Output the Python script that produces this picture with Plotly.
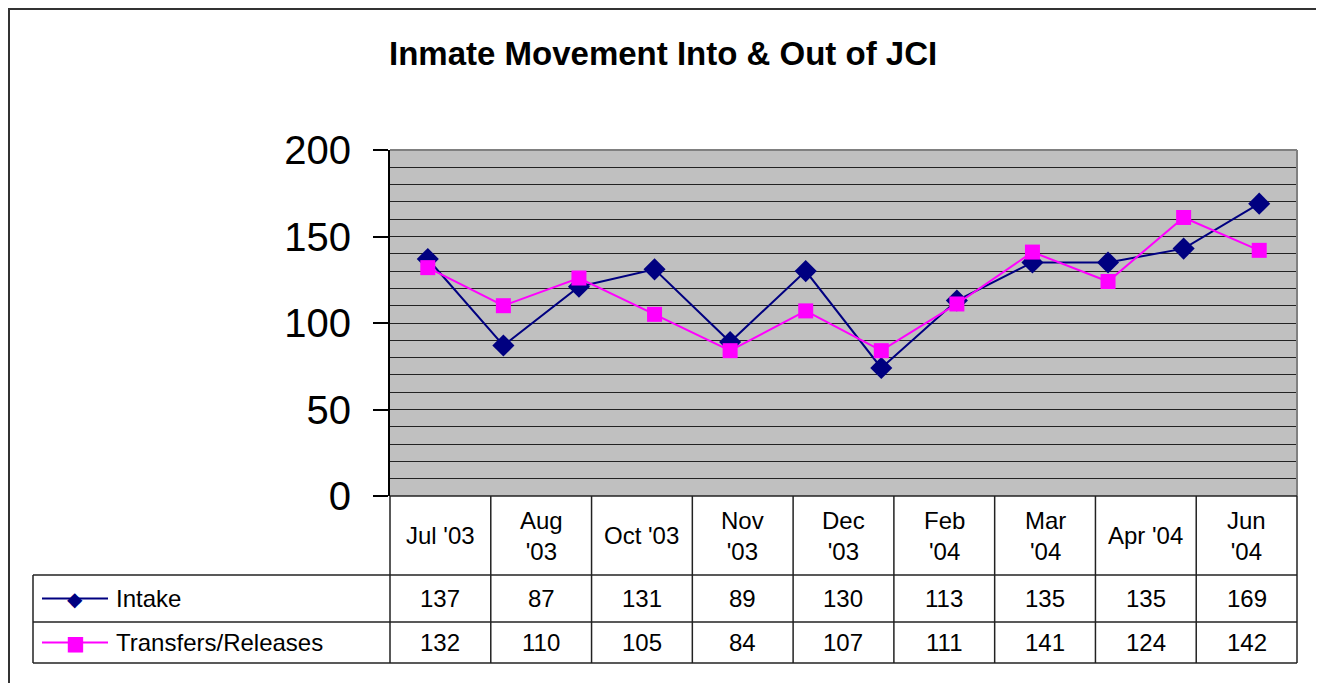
import plotly.graph_objects as go

# monthly series plotted on the chart
months = ["Jul '03", "Aug '03", "Sep '03", "Oct '03", "Nov '03", "Dec '03",
          "Jan '04", "Feb '04", "Mar '04", "Apr '04", "May '04", "Jun '04"]
intake = [137, 87, 121, 131, 89, 130, 74, 113, 135, 135, 143, 169]
transfers = [132, 110, 126, 105, 84, 107, 84, 111, 141, 124, 161, 142]

# data table shown under the chart
table_labels = ["Jul '03", "Aug<br>'03", "Oct '03", "Nov<br>'03", "Dec<br>'03",
                "Feb<br>'04", "Mar<br>'04", "Apr '04", "Jun<br>'04"]
table_intake = [137, 87, 131, 89, 130, 113, 135, 135, 169]
table_transfers = [132, 110, 105, 84, 107, 111, 141, 124, 142]

W, H = 1324, 683
OFF = 8  # page body margin pushes the figure 8px right and down
FONT = "Liberation Sans, Arial, sans-serif"
NAVY = "#000080"
MAGENTA = "#FF00FF"

# plot area in screen pixels
L, R, T, B = 390, 1297, 150, 496
# table rows in screen pixels
ROW1, ROW2, ROW3 = 575, 622, 663
TABLE_LEFT = 33


def px(x):
    return (x - OFF) / W


def py(y):
    return 1 - (y - OFF) / H


fig = go.Figure()

fig.add_trace(go.Scatter(
    x=list(range(len(months))), y=intake, name="Intake", mode="lines+markers",
    line=dict(color=NAVY, width=2),
    marker=dict(symbol="diamond", size=17, color=NAVY),
    hovertext=months,
))
fig.add_trace(go.Scatter(
    x=list(range(len(months))), y=transfers, name="Transfers/Releases", mode="lines+markers",
    line=dict(color=MAGENTA, width=2),
    marker=dict(symbol="square", size=15, color=MAGENTA),
    hovertext=months,
))

shapes = []
# gray plot area
shapes.append(dict(type="rect", xref="paper", yref="paper", x0=px(L), x1=px(R), y0=py(B), y1=py(T),
                   fillcolor="#C0C0C0", line=dict(width=0), layer="below"))
# top and right border of plot area
shapes.append(dict(type="line", xref="paper", yref="paper", x0=px(L), x1=px(R), y0=py(T), y1=py(T),
                   line=dict(color="#808080", width=2)))
shapes.append(dict(type="line", xref="paper", yref="paper", x0=px(R), x1=px(R), y0=py(T), y1=py(B),
                   line=dict(color="#808080", width=2)))
# outer chart border
shapes.append(dict(type="rect", xref="paper", yref="paper", x0=px(9), x1=px(1321), y0=py(700), y1=py(9),
                   line=dict(color="#333333", width=2)))

# table grid
ncol = len(table_labels)
colw = (R - L) / ncol
for y in [B, ROW1, ROW2, ROW3]:
    x0 = L if y == B else TABLE_LEFT
    shapes.append(dict(type="line", xref="paper", yref="paper", x0=px(x0), x1=px(R), y0=py(y), y1=py(y),
                       line=dict(color="#222222", width=1.5)))
for i in range(ncol + 1):
    x = L + i * colw
    shapes.append(dict(type="line", xref="paper", yref="paper", x0=px(x), x1=px(x), y0=py(B), y1=py(ROW3),
                       line=dict(color="#222222", width=1.5)))
shapes.append(dict(type="line", xref="paper", yref="paper", x0=px(TABLE_LEFT), x1=px(TABLE_LEFT),
                   y0=py(ROW1), y1=py(ROW3), line=dict(color="#222222", width=1.5)))

annotations = []
tfont = dict(family=FONT, size=24, color="black")
for i in range(ncol):
    cx = px(L + (i + 0.5) * colw)
    annotations.append(dict(x=cx, y=py((B + ROW1) / 2), xref="paper", yref="paper", text=table_labels[i],
                            showarrow=False, font=tfont, xanchor="center", yanchor="middle"))
    annotations.append(dict(x=cx, y=py((ROW1 + ROW2) / 2), xref="paper", yref="paper", text=str(table_intake[i]),
                            showarrow=False, font=tfont, xanchor="center", yanchor="middle"))
    annotations.append(dict(x=cx, y=py((ROW2 + ROW3) / 2), xref="paper", yref="paper", text=str(table_transfers[i]),
                            showarrow=False, font=tfont, xanchor="center", yanchor="middle"))

# legend keys inside the table
for (y0, y1), name, color, glyph in [((ROW1, ROW2), "Intake", NAVY, "◆"),
                                      ((ROW2, ROW3), "Transfers/Releases", MAGENTA, "■")]:
    cy = (y0 + y1) / 2
    shapes.append(dict(type="line", xref="paper", yref="paper", x0=px(42), x1=px(108), y0=py(cy), y1=py(cy),
                       line=dict(color=color, width=2)))
    annotations.append(dict(x=px(75), y=py(cy), xref="paper", yref="paper", text=glyph, showarrow=False,
                            font=dict(family="DejaVu Sans", size=20, color=color),
                            xanchor="center", yanchor="middle"))
    annotations.append(dict(x=px(114), y=py(cy), xref="paper", yref="paper", text=name, showarrow=False,
                            font=tfont, xanchor="left", yanchor="middle"))

# title
annotations.append(dict(x=px(663), y=py(53), xref="paper", yref="paper",
                        text="<b>Inmate Movement Into &amp; Out of JCI</b>", showarrow=False,
                        font=dict(family=FONT, size=33, color="black"), xanchor="center", yanchor="middle"))

fig.update_layout(
    width=W, height=H,
    margin=dict(l=0, r=0, t=0, b=0, pad=0, autoexpand=False),
    paper_bgcolor="white",
    plot_bgcolor="rgba(0,0,0,0)",
    showlegend=False,
    shapes=shapes,
    annotations=annotations,
    xaxis=dict(domain=[px(L), px(R)], range=[-0.5, len(months) - 0.5],
               showticklabels=False, showgrid=False, zeroline=False, showline=False, ticks=""),
    yaxis=dict(domain=[py(B), py(T)], range=[0, 200], dtick=50,
               ticks="outside", ticklen=15, tickcolor="black", tickwidth=1.5,
               ticklabelstandoff=14,
               showline=True, linecolor="black", linewidth=2,
               showgrid=True, gridcolor="#222222", gridwidth=1, zeroline=False,
               minor=dict(dtick=10, showgrid=True, gridcolor="#222222", gridwidth=1),
               tickfont=dict(family=FONT, size=40, color="black")),
)

fig.write_html("out.html")
